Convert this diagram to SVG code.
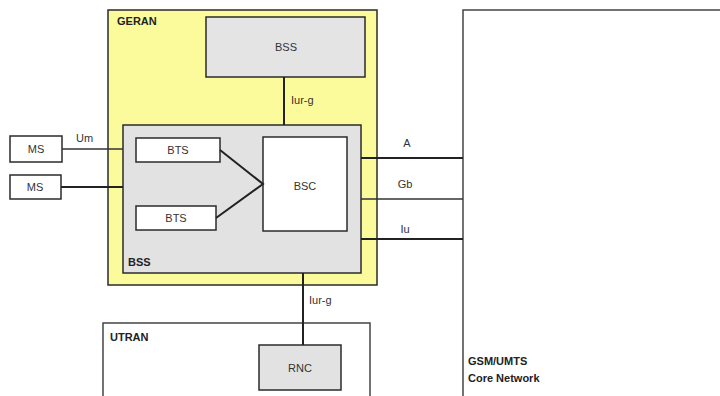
<svg xmlns="http://www.w3.org/2000/svg" width="720" height="396" viewBox="0 0 720 396">
<style>
.box{stroke:#2b2b2b;stroke-width:1.5}
.t{font-family:"Liberation Sans",Arial,sans-serif;font-size:11px;fill:#333}
.b{font-weight:bold;fill:#222}
.c{text-anchor:middle}
.ln{stroke:#222;stroke-width:2;fill:none}
.lt{stroke:#333;stroke-width:1.5;fill:none}
</style>
<rect width="720" height="396" fill="#fff"/>
<g id="core">
<path d="M720 10 H463 V396" fill="#fff" stroke="#444" stroke-width="1.5"/>
<text class="t b" x="468" y="365">GSM/UMTS</text>
<text class="t b" x="468" y="382">Core Network</text>
</g>
<g id="geran">
<rect class="box" x="108" y="10" width="269" height="275" fill="#fbfb9c"/>
<text class="t b" x="117" y="25">GERAN</text>
</g>
<g id="bss-top">
<rect class="box" x="206" y="17" width="159" height="60" fill="#e4e4e4"/>
<text class="t c" x="286" y="51">BSS</text>
</g>
<g id="bss">
<rect class="box" x="123" y="125" width="238" height="148" fill="#e2e2e2"/>
<text class="t b" x="128" y="266">BSS</text>
</g>
<g id="bts1">
<rect class="box" x="136" y="138" width="84" height="24" fill="#fff"/>
<text class="t c" x="178" y="154">BTS</text>
</g>
<g id="bts2">
<rect class="box" x="136" y="206" width="80" height="24" fill="#fff"/>
<text class="t c" x="176" y="222">BTS</text>
</g>
<g id="bsc">
<rect class="box" x="263" y="137" width="84" height="94" fill="#fff"/>
<text class="t c" x="305" y="190">BSC</text>
</g>
<g id="ms1">
<rect class="box" x="10" y="136" width="52" height="26" fill="#fff"/>
<text class="t c" x="36" y="153">MS</text>
</g>
<g id="ms2">
<rect class="box" x="10" y="175" width="51" height="24" fill="#fff"/>
<text class="t c" x="35" y="191">MS</text>
</g>
<g id="utran">
<path d="M103 396 V323 H370 V396" fill="#fff" stroke="#444" stroke-width="1.5"/>
<text class="t b" x="110" y="341">UTRAN</text>
</g>
<g id="rnc">
<rect class="box" x="259" y="345" width="82" height="45" fill="#e2e2e2"/>
<text class="t c" x="300" y="372">RNC</text>
</g>
<g id="connectors">
<line class="ln" x1="284" y1="77" x2="284" y2="125"/>
<line class="lt" x1="62" y1="149" x2="123" y2="149"/>
<line class="ln" x1="61" y1="187" x2="123" y2="187"/>
<polyline class="ln" points="220,150 263,184 216,218"/>
<line class="ln" x1="361" y1="158" x2="463" y2="158"/>
<line class="lt" x1="361" y1="199" x2="463" y2="199"/>
<line class="ln" x1="361" y1="239" x2="463" y2="239"/>
<line class="ln" x1="303" y1="273" x2="303" y2="345"/>
</g>
<g id="labels">
<text class="t" x="76" y="142">Um</text>
<text class="t" x="291" y="104">Iur-g</text>
<text class="t c" x="407" y="147">A</text>
<text class="t c" x="405" y="188">Gb</text>
<text class="t c" x="405" y="233">Iu</text>
<text class="t" x="309" y="304">Iur-g</text>
</g>
</svg>
